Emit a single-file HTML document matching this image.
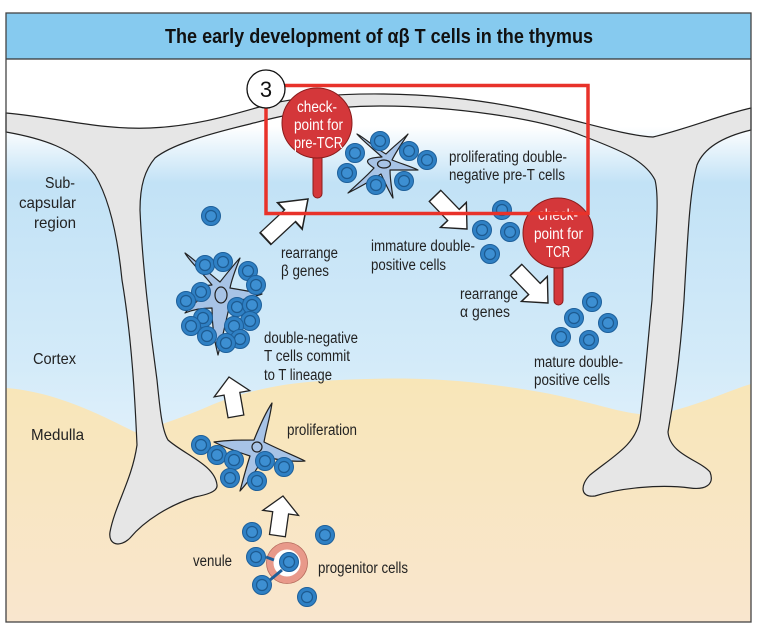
<!DOCTYPE html>
<html><head><meta charset="utf-8"><style>
html,body{margin:0;padding:0;background:#fff;width:758px;height:632px;overflow:hidden}
svg{display:block}
text{font-family:"Liberation Sans Narrow","Liberation Sans",sans-serif;fill:#222}
</style></head><body>
<svg width="758" height="632" viewBox="0 0 758 632" xmlns="http://www.w3.org/2000/svg">
<defs>
<linearGradient id="sky" x1="0" y1="0" x2="0" y2="1">
<stop offset="0" stop-color="#ffffff"/>
<stop offset="0.12" stop-color="#ffffff"/>
<stop offset="0.22" stop-color="#c2e2f6"/>
<stop offset="0.55" stop-color="#d4ebf9"/>
<stop offset="0.9" stop-color="#f4f9fd"/>
<stop offset="1" stop-color="#ffffff"/>
</linearGradient>
<linearGradient id="sand" x1="0" y1="0" x2="0" y2="1">
<stop offset="0" stop-color="#f8e6b8"/>
<stop offset="1" stop-color="#f9e6ce"/>
</linearGradient>
<g id="cell"><circle r="9.5" fill="#2f80c4" stroke="#1d5f9a" stroke-width="1"/><circle r="5.5" fill="#3d8fd2" stroke="#1d5a90" stroke-width="1.2"/></g>
<polygon id="arr" points="0,0 18,17 8,17 8,40 -8,40 -8,17 -18,17" fill="#fff" stroke="#222" stroke-width="1.3" stroke-linejoin="miter"/>
</defs>
<rect x="6" y="59" width="745" height="563" fill="url(#sky)"/>
<path d="M6,388 C60,392 110,420 135,432 C150,428 165,424 200,410 C240,392 280,382 340,380 C420,376 470,380 540,392 C600,403 630,418 660,414 C700,405 730,390 751,384 L751,622 L6,622 Z" fill="url(#sand)"/>
<path d="M6,113 C60,118 100,130 150,128 C200,126 240,112 270,104 C330,90 430,90 520,108 C580,120 620,135 653,137 C690,128 720,115 751,108 L751,130 C730,135 705,145 697,165 C690,190 688,230 684,300 C680,360 672,410 668,432 C670,455 700,460 710,472 C715,485 705,490 690,488 C660,484 620,488 595,496 C580,498 580,485 590,475 C615,455 635,445 640,420 C645,380 648,340 652,300 C655,240 660,200 655,180 C645,160 620,150 583,136 C540,118 450,106 380,106 C320,106 280,116 250,124 C200,136 170,146 155,158 C145,170 140,185 140,210 C142,260 150,330 157,380 C160,410 162,430 168,440 C185,455 215,465 217,485 C218,492 205,495 195,497 C170,505 145,520 130,538 C120,548 108,545 110,532 C115,505 132,480 137,445 C135,400 132,340 122,280 C118,240 110,200 95,175 C75,148 40,138 6,132 Z" fill="#e6e6e6" stroke="#222" stroke-width="1.2"/>
<rect x="6" y="13" width="745" height="46" fill="#86caef"/>
<line x1="6" y1="59" x2="751" y2="59" stroke="#333" stroke-width="1.2"/>
<rect x="6" y="13" width="745" height="609" fill="none" stroke="#444" stroke-width="1.3"/>
<text x="165" y="43" textLength="428" lengthAdjust="spacingAndGlyphs" font-size="20" font-weight="bold" style="fill:#111">The early development of αβ T cells in the thymus</text>

<g font-size="16" lengthAdjust="spacingAndGlyphs">
<text x="45" y="188" textLength="30" lengthAdjust="spacingAndGlyphs">Sub-</text>
<text x="19" y="208" textLength="57" lengthAdjust="spacingAndGlyphs">capsular</text>
<text x="34" y="228" textLength="42" lengthAdjust="spacingAndGlyphs">region</text>
<text x="33" y="364" textLength="43" lengthAdjust="spacingAndGlyphs">Cortex</text>
<text x="31" y="440" textLength="53" lengthAdjust="spacingAndGlyphs">Medulla</text>
</g>

<path d="M382,157 C372,148 362,140 357,134 C365,138 375,148 386,154 C394,146 402,140 408,134 C402,143 396,152 392,160 C402,164 412,167 418,170 C408,170 398,170 390,170 C390,180 392,190 393,198 C388,190 384,180 381,174 C372,180 358,188 348,193 C356,185 366,177 374,168 C368,164 360,158 382,157 Z" fill="#a7c3e6" stroke="#222" stroke-width="1.2" stroke-linejoin="round"/>
<ellipse cx="384" cy="164" rx="6.5" ry="4" fill="#a7c3e6" stroke="#222" stroke-width="1.2"/>
<path d="M212,285 C202,272 190,262 185,253 C195,260 205,270 220,282 C228,272 236,262 240,258 C236,268 232,278 230,288 C242,290 254,292 262,294 C250,298 240,300 230,304 C226,320 222,340 218,355 C214,340 212,322 212,308 C202,308 192,310 185,313 C192,305 200,298 208,295 C200,290 195,286 212,285 Z" fill="#a7c3e6" stroke="#222" stroke-width="1.2" stroke-linejoin="round"/>
<ellipse cx="221" cy="295" rx="6" ry="8" fill="#a7c3e6" stroke="#222" stroke-width="1.2"/>
<path d="M254,440 C260,425 266,412 272,403 C270,418 266,430 264,442 C280,450 295,456 305,461 C290,462 276,460 264,456 C258,468 250,480 240,491 C243,480 246,468 250,456 C238,452 226,448 214,442 C228,440 240,440 254,440 Z" fill="#a7c3e6" stroke="#222" stroke-width="1.2" stroke-linejoin="round"/>
<circle cx="257" cy="447" r="5" fill="#a7c3e6" stroke="#222" stroke-width="1.2"/>

<g>
<use href="#cell" x="380" y="141"/><use href="#cell" x="355" y="153"/><use href="#cell" x="409" y="151"/><use href="#cell" x="427" y="160"/><use href="#cell" x="347" y="173"/><use href="#cell" x="376" y="185"/><use href="#cell" x="404" y="181"/>
<use href="#cell" x="211" y="216"/>
<use href="#cell" x="205" y="265"/><use href="#cell" x="223" y="262"/><use href="#cell" x="248" y="271"/><use href="#cell" x="256" y="285"/><use href="#cell" x="201" y="292"/><use href="#cell" x="186" y="301"/><use href="#cell" x="203" y="318"/><use href="#cell" x="191" y="326"/><use href="#cell" x="207" y="336"/><use href="#cell" x="237" y="307"/><use href="#cell" x="252" y="305"/><use href="#cell" x="250" y="321"/><use href="#cell" x="234" y="326"/><use href="#cell" x="240" y="339"/><use href="#cell" x="226" y="343"/>
<use href="#cell" x="201" y="445"/><use href="#cell" x="217" y="455"/><use href="#cell" x="234" y="460"/><use href="#cell" x="265" y="461"/><use href="#cell" x="284" y="467"/><use href="#cell" x="230" y="478"/><use href="#cell" x="257" y="481"/>
<use href="#cell" x="502" y="210"/><use href="#cell" x="482" y="230"/><use href="#cell" x="510" y="232"/><use href="#cell" x="490" y="254"/>
<use href="#cell" x="592" y="302"/><use href="#cell" x="574" y="318"/><use href="#cell" x="608" y="323"/><use href="#cell" x="561" y="337"/><use href="#cell" x="589" y="340"/>
<use href="#cell" x="252" y="532"/><use href="#cell" x="325" y="535"/><use href="#cell" x="262" y="585"/><use href="#cell" x="307" y="597"/>
</g>
<circle cx="287" cy="563" r="17" fill="#fff" stroke="#e8998a" stroke-width="7"/>
<circle cx="287" cy="563" r="20.5" fill="none" stroke="#b56a5c" stroke-width="0.8"/>
<path d="M266,557 L274,560 M270,580 L282,570" stroke="#1d5f9a" stroke-width="3"/>
<use href="#cell" x="256" y="557"/>
<use href="#cell" x="289" y="562"/>

<use href="#arr" transform="translate(308,199) rotate(47) scale(1,1.45)"/>
<use href="#arr" transform="translate(467,229) rotate(136) scale(1,1.15)"/>
<use href="#arr" transform="translate(548,303) rotate(136) scale(1,1.15)"/>
<use href="#arr" transform="translate(229,377) rotate(-10)"/>
<use href="#arr" transform="translate(283,496) rotate(8)"/>

<rect x="313" y="140" width="9" height="58" rx="4.5" fill="#d4373a" stroke="#8a1c1c" stroke-width="1"/>
<circle cx="317" cy="123" r="35" fill="#d4373a" stroke="#8a1c1c" stroke-width="1"/>
<g font-size="16">
<text x="297" y="112" textLength="40" lengthAdjust="spacingAndGlyphs" style="fill:#fff">check-</text>
<text x="294" y="130" textLength="49" lengthAdjust="spacingAndGlyphs" style="fill:#fff">point for</text>
<text x="294" y="148" textLength="49" lengthAdjust="spacingAndGlyphs" style="fill:#fff">pre-TCR</text>
</g>
<rect x="554" y="252" width="9" height="53" rx="4.5" fill="#d4373a" stroke="#8a1c1c" stroke-width="1"/>
<circle cx="558" cy="233" r="35" fill="#d4373a" stroke="#8a1c1c" stroke-width="1"/>
<g font-size="16">
<text x="538" y="220" textLength="40" lengthAdjust="spacingAndGlyphs" style="fill:#fff">check-</text>
<text x="534" y="239" textLength="49" lengthAdjust="spacingAndGlyphs" style="fill:#fff">point for</text>
<text x="546" y="257" textLength="24" lengthAdjust="spacingAndGlyphs" style="fill:#fff">TCR</text>
</g>

<rect x="266" y="85.5" width="322" height="128" fill="none" stroke="#e8322a" stroke-width="3.5"/>
<circle cx="266" cy="89" r="19" fill="#fff" stroke="#111" stroke-width="1.3"/>
<text x="266" y="97" text-anchor="middle" font-size="22" style="fill:#111">3</text>

<g font-size="15.5">
<text x="449" y="162" textLength="118" lengthAdjust="spacingAndGlyphs">proliferating double-</text>
<text x="449" y="180" textLength="116" lengthAdjust="spacingAndGlyphs">negative pre-T cells</text>
<text x="281" y="258" textLength="57" lengthAdjust="spacingAndGlyphs">rearrange</text>
<text x="281" y="276" textLength="48" lengthAdjust="spacingAndGlyphs">β genes</text>
<text x="371" y="251" textLength="104" lengthAdjust="spacingAndGlyphs">immature double-</text>
<text x="371" y="270" textLength="75" lengthAdjust="spacingAndGlyphs">positive cells</text>
<text x="460" y="299" textLength="58" lengthAdjust="spacingAndGlyphs">rearrange</text>
<text x="460" y="317" textLength="50" lengthAdjust="spacingAndGlyphs">α genes</text>
<text x="264" y="343" textLength="94" lengthAdjust="spacingAndGlyphs">double-negative</text>
<text x="264" y="361" textLength="86" lengthAdjust="spacingAndGlyphs">T cells commit</text>
<text x="264" y="380" textLength="68" lengthAdjust="spacingAndGlyphs">to T lineage</text>
<text x="534" y="367" textLength="89" lengthAdjust="spacingAndGlyphs">mature double-</text>
<text x="534" y="385" textLength="76" lengthAdjust="spacingAndGlyphs">positive cells</text>
<text x="287" y="435" textLength="70" lengthAdjust="spacingAndGlyphs">proliferation</text>
<text x="193" y="566" textLength="39" lengthAdjust="spacingAndGlyphs">venule</text>
<text x="318" y="573" textLength="90" lengthAdjust="spacingAndGlyphs">progenitor cells</text>
</g>
</svg>
</body></html>
